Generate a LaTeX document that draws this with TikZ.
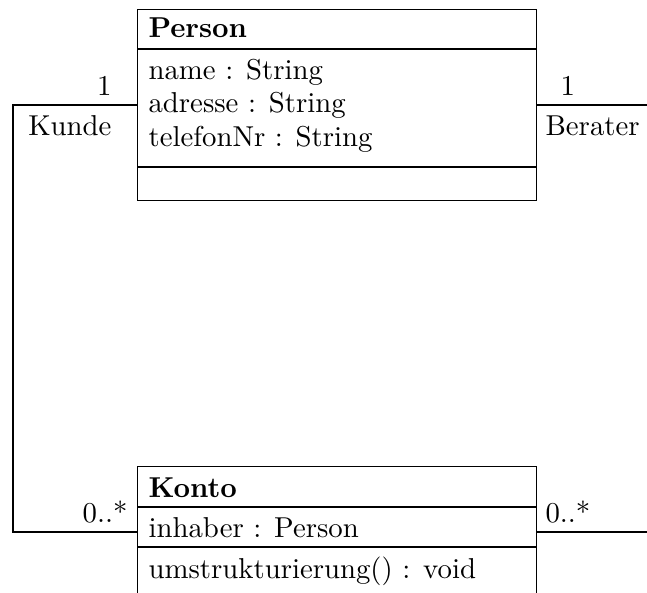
\documentclass[tikz,border=0pt]{standalone}
\begin{document}
\begin{tikzpicture}[x=0.3475pt,y=-0.3475pt,
  box/.style={draw, line width=0.45pt, inner sep=0pt, anchor=north west, minimum width=138.65pt},
  sep/.style={line width=0.45pt},
  conn/.style={line width=0.8pt},
  txt/.style={anchor=base west, inner sep=0pt},
  lbl/.style={anchor=base east, inner sep=0pt}]
\useasboundingbox (0,0) rectangle (647,592);
% class boxes
\node[box, minimum height=66.5pt] (person) at (137,8.7) {};
\node[box, minimum height=45.2pt] (konto) at (137,466) {};
\draw[sep] (person.west |- 0,49) -- (person.east |- 0,49);
\draw[sep] (person.west |- 0,167) -- (person.east |- 0,167);
\draw[sep] (konto.west |- 0,507) -- (konto.east |- 0,507);
\draw[sep] (konto.west |- 0,547) -- (konto.east |- 0,547);
% texts
\node[txt] (pname) at (148,38) {\textbf{Person}};
\node[txt] (a1) at (148,80) {name : String};
\node[txt] (a2) at (148,113) {adresse : String};
\node[txt] (a3) at (148,147) {telefonNr : String};
\node[txt] (kname) at (148,497) {\textbf{Konto}};
\node[txt] (k1) at (148,537) {inhaber : Person};
\node[txt] (k2) at (148,578) {umstrukturierung() : void};
% connectors
\coordinate (lcorner) at (13,300);
\coordinate (rend) at (648,0);
\draw[conn] (person.west) -| (lcorner) |- (konto.west);
\draw[conn] (person.east) -- (person.east -| rend);
\draw[conn] (konto.east) -- (konto.east -| rend);
% labels
\node[lbl] (m1) at (112,96) {1};
\node[lbl] (r1) at (112,136) {Kunde};
\node[txt] (m2) at (560,96) {1};
\node[txt] (r2) at (545,136) {Berater};
\node[lbl] (m3) at (128,522) {0..*};
\node[txt] (m4) at (545,522) {0..*};
\end{tikzpicture}
\end{document}
